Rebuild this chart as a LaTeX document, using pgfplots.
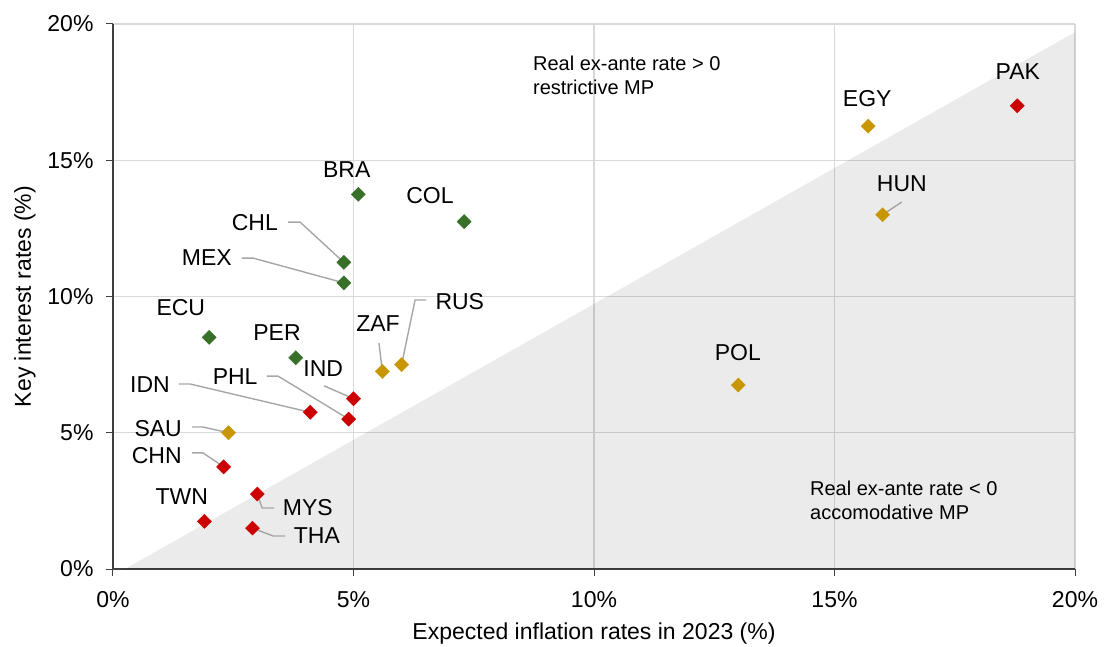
\documentclass[border=0pt]{standalone}
\usepackage{fontspec}
\setmainfont{Liberation Sans}
\usepackage{pgfplots}
\usepackage{pgfplotstable}
\pgfplotsset{compat=1.18}
\definecolor{cgreen}{HTML}{38702A}
\definecolor{cgold}{HTML}{C89600}
\definecolor{cred}{HTML}{CC0000}
\definecolor{gridc}{HTML}{D9D9D9}
\definecolor{leader}{HTML}{A6A6A6}
\definecolor{axc}{HTML}{404040}

\pgfplotstableread{
x y
5.1 13.75
7.3 12.75
4.8 11.25
4.8 10.5
2.0 8.5
3.8 7.75
}\greendata
\pgfplotstableread{
x y
15.7 16.25
16.0 13.0
13.0 6.75
6.0 7.5
5.6 7.25
2.4 5.0
}\golddata
\pgfplotstableread{
x y
18.8 17.0
5.0 6.25
4.1 5.75
4.9 5.5
2.3 3.75
3.0 2.75
1.9 1.75
2.9 1.5
}\reddata

\begin{document}
\begin{tikzpicture}
\begin{axis}[
  at={(0pt,0pt)}, anchor=south west,
  scale only axis, width=962pt, height=545pt,
  xmin=0, xmax=20, ymin=0, ymax=20,
  axis lines*=left,
  axis line style={-, axc, line width=1.2pt},
  grid=major, grid style={gridc, line width=1.4pt},
  tick align=outside, major tick length=7pt,
  tick style={axc, line width=1pt},
  xtick={0,5,10,15,20}, ytick={0,5,10,15,20},
  xticklabels={0\%,5\%,10\%,15\%,20\%},
  yticklabels={0\%,5\%,10\%,15\%,20\%},
  ticklabel style={font=\fontsize{23}{27}\selectfont},
  xticklabel style={yshift=-12pt},
  yticklabel style={xshift=-9pt},
  label style={font=\fontsize{23}{27}\selectfont},
  xlabel={Expected inflation rates in 2023 (\%)},
  ylabel={Key interest rates (\%)},
  xlabel style={at={(axis description cs:0.5,-0.119)}, anchor=center},
  ylabel style={at={(axis description cs:-0.0915,0.5)}, anchor=center},
  clip=false,
]
\addplot[draw=none, fill=black, fill opacity=0.078] coordinates {(0.25,0) (20,19.7) (20,0) (0.25,0)} -- cycle;

\addplot[only marks, mark=square*, mark size=5pt, color=cgreen, every mark/.append style={rotate=45}] table[x=x,y=y] {\greendata};
\addplot[only marks, mark=square*, mark size=5pt, color=cgold, every mark/.append style={rotate=45}] table[x=x,y=y] {\golddata};
\addplot[only marks, mark=square*, mark size=5pt, color=cred, every mark/.append style={rotate=45}] table[x=x,y=y] {\reddata};

% leader lines
\begin{scope}[leader, line width=1.4pt]
\draw (axis cs:3.64,12.73) -- (axis cs:3.89,12.73) -- (axis cs:4.8,11.25);
\draw (axis cs:2.68,11.41) -- (axis cs:2.91,11.41) -- (axis cs:4.8,10.5);
\draw (axis cs:6.51,9.87) -- (axis cs:6.28,9.87) -- (axis cs:6.0,7.5);
\draw (axis cs:5.53,8.29) -- (axis cs:5.6,7.25);
\draw (axis cs:4.39,6.72) -- (axis cs:5.0,6.25);
\draw (axis cs:1.37,6.79) -- (axis cs:1.60,6.79) -- (axis cs:4.1,5.75);
\draw (axis cs:3.20,7.08) -- (axis cs:3.43,7.08) -- (axis cs:4.9,5.5);
\draw (axis cs:1.64,5.21) -- (axis cs:1.87,5.21) -- (axis cs:2.4,5.0);
\draw (axis cs:1.64,4.26) -- (axis cs:1.87,4.26) -- (axis cs:2.3,3.75);
\draw (axis cs:3.35,2.24) -- (axis cs:3.10,2.24) -- (axis cs:3.0,2.75);
\draw (axis cs:3.58,1.21) -- (axis cs:3.33,1.21) -- (axis cs:2.9,1.5);
\draw (axis cs:16.40,13.47) -- (axis cs:16.0,13.0);
\end{scope}

% labels
\begin{scope}[every node/.style={font=\fontsize{23}{27}\selectfont, inner sep=0pt}]
\node at (axis cs:4.86,14.64) {BRA};
\node at (axis cs:6.59,13.72) {COL};
\node at (axis cs:2.95,12.70) {CHL};
\node at (axis cs:1.95,11.41) {MEX};
\node at (axis cs:1.41,9.58) {ECU};
\node at (axis cs:3.41,8.66) {PER};
\node at (axis cs:7.21,9.80) {RUS};
\node at (axis cs:5.51,8.99) {ZAF};
\node at (axis cs:4.37,7.34) {IND};
\node at (axis cs:0.77,6.75) {IDN};
\node at (axis cs:2.54,7.05) {PHL};
\node at (axis cs:0.94,5.17) {SAU};
\node at (axis cs:0.91,4.18) {CHN};
\node at (axis cs:4.05,2.24) {MYS};
\node at (axis cs:4.24,1.21) {THA};
\node at (axis cs:1.43,2.64) {TWN};
\node at (axis cs:16.40,14.13) {HUN};
\node at (axis cs:15.68,17.28) {EGY};
\node at (axis cs:18.81,18.24) {PAK};
\node at (axis cs:12.99,7.96) {POL};
\end{scope}

\node[anchor=west, align=left, inner sep=0pt, font=\fontsize{20}{24}\selectfont] at (axis cs:8.73,18.13) {Real ex-ante rate > 0\\restrictive MP};
\node[anchor=west, align=left, inner sep=0pt, font=\fontsize{20}{24}\selectfont] at (axis cs:14.49,2.53) {Real ex-ante rate < 0\\accomodative MP};
\end{axis}
\pgfresetboundingbox
\path (-113pt,-77pt) rectangle (993pt,569pt);
\end{tikzpicture}
\end{document}
